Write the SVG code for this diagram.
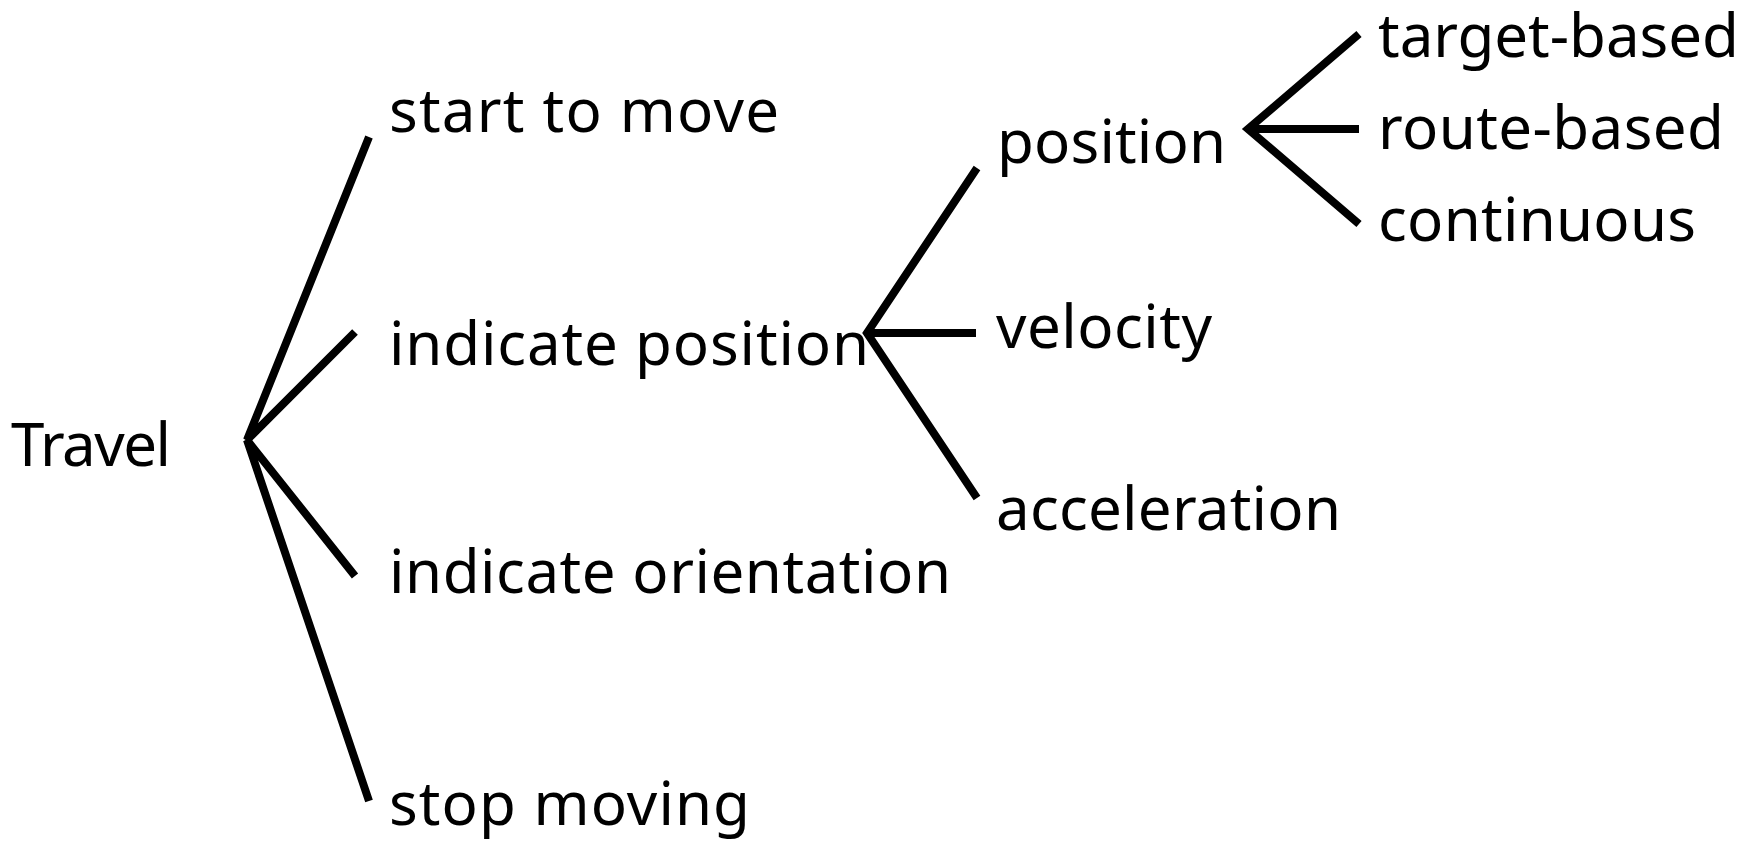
<svg xmlns="http://www.w3.org/2000/svg" width="1760" height="841" viewBox="0 0 1760 841">
  <style>
    .lbl { font-family: "Noto Sans", "Open Sans", sans-serif; font-size: 60px; fill: #000; }
    .edge { stroke: #000; stroke-width: 8; fill: none; stroke-linecap: butt; stroke-linejoin: miter; }
  </style>
  <rect width="1760" height="841" fill="#fff"/>

  <g id="connectors">
    <!-- Travel fan-out -->
    <polyline class="edge" points="369,137 247,440 355,332"/>
    <polyline class="edge" points="355,576 247,440 369,801"/>
    <!-- indicate position fan-out -->
    <polyline class="edge" points="977,168 867,333 977,498"/>
    <line class="edge" x1="867" y1="333" x2="976" y2="333"/>
    <!-- position fan-out -->
    <polyline class="edge" points="1359,34 1248,129 1359,224"/>
    <line class="edge" x1="1248" y1="129" x2="1359" y2="129"/>
  </g>

  <g id="travel"><text class="lbl" x="11" y="466" textLength="160">Travel</text></g>
  <g id="start-to-move"><text class="lbl" x="389" y="132" textLength="390">start to move</text></g>
  <g id="indicate-position"><text class="lbl" x="389" y="365" textLength="480">indicate position</text></g>
  <g id="indicate-orientation"><text class="lbl" x="389" y="593" textLength="562">indicate orientation</text></g>
  <g id="stop-moving"><text class="lbl" x="389" y="825" textLength="361">stop moving</text></g>
  <g id="position"><text class="lbl" x="997" y="163" textLength="229">position</text></g>
  <g id="velocity"><text class="lbl" x="996" y="348" textLength="216">velocity</text></g>
  <g id="acceleration"><text class="lbl" x="996" y="530" textLength="345">acceleration</text></g>
  <g id="target-based"><text class="lbl" x="1378" y="57" textLength="361">target-based</text></g>
  <g id="route-based"><text class="lbl" x="1378" y="149" textLength="346">route-based</text></g>
  <g id="continuous"><text class="lbl" x="1378" y="241" textLength="318">continuous</text></g>
</svg>
